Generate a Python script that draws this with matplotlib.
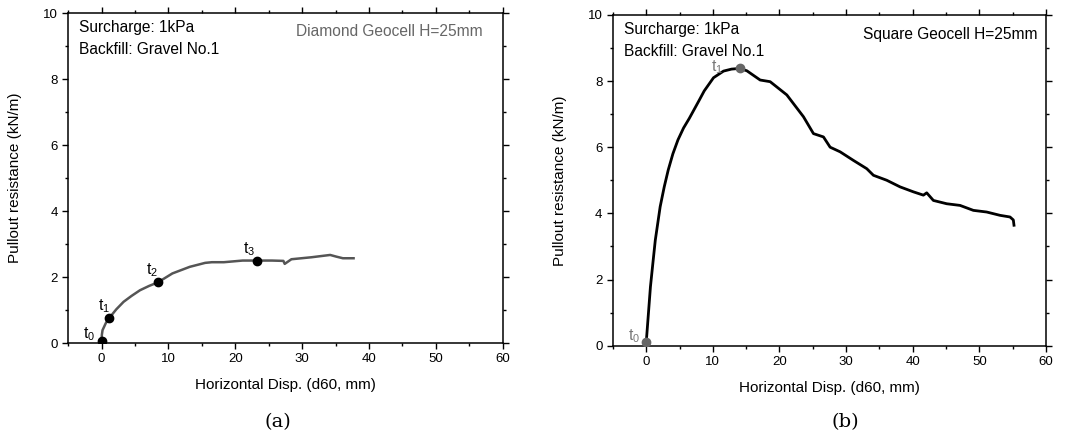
import matplotlib
matplotlib.use("Agg")
import matplotlib.pyplot as plt
from matplotlib.ticker import MultipleLocator

plt.rcParams['font.family'] = ['Liberation Sans', 'DejaVu Sans']
plt.rcParams['mathtext.fontset'] = 'custom'
plt.rcParams['mathtext.rm'] = 'Liberation Sans'

# (a) diamond geocell curve
disp_a = [0.0, 0.05, 0.15, 0.63, 1.12, 2.2, 3.3, 4.5, 5.75, 7.1, 8.44, 10.6, 13.2, 15.5, 16.5,
          18.3, 21.1, 23.3, 25.5, 27.2, 27.4, 28.4, 31.4, 34.2, 35.1, 36.1, 37.7]
res_a = [0.07, 0.25, 0.39, 0.60, 0.75, 1.02, 1.25, 1.43, 1.60, 1.73, 1.84, 2.11, 2.31, 2.43, 2.45,
         2.45, 2.50, 2.50, 2.50, 2.49, 2.40, 2.54, 2.60, 2.67, 2.62, 2.57, 2.57]
pts_a_x = [0.0, 1.12, 8.44, 23.3]
pts_a_y = [0.07, 0.75, 1.84, 2.50]
pts_a_lab = ['t$_0$', 't$_1$', 't$_2$', 't$_3$']
lab_a_x = [-1.9, 0.4, 7.5, 22.0]
lab_a_y = [0.28, 1.12, 2.22, 2.85]

# (b) square geocell curve
disp_b = [0.0, 0.3, 0.63, 1.0, 1.36, 2.09, 2.7, 3.3, 4.0, 4.76, 5.6, 6.46, 7.9, 8.7, 10.1,
          11.6, 12.8, 14.0, 15.1, 17.1, 18.6, 21.1, 23.6, 25.1, 26.6, 27.6, 29.1, 31.1,
          33.1, 34.1, 36.1, 38.1, 40.1, 41.6, 42.1, 43.1, 45.1, 47.1, 49.1, 51.1, 53.1,
          54.6, 55.1, 55.2]
res_b = [0.10, 0.90, 1.78, 2.50, 3.19, 4.20, 4.80, 5.31, 5.80, 6.22, 6.58, 6.87, 7.40, 7.70, 8.10,
         8.30, 8.36, 8.38, 8.31, 8.03, 7.98, 7.58, 6.92, 6.41, 6.31, 6.00, 5.86, 5.60,
         5.35, 5.15, 5.00, 4.80, 4.65, 4.55, 4.62, 4.39, 4.29, 4.24, 4.09, 4.04, 3.94,
         3.89, 3.80, 3.64]
pts_b_x = [0.0, 14.0]
pts_b_y = [0.10, 8.38]
pts_b_lab = ['t$_0$', 't$_1$']
lab_b_x = [-1.9, 10.6]
lab_b_y = [0.30, 8.42]

fig = plt.figure(figsize=(10.81, 4.37), dpi=100)
ax1 = fig.add_axes([0.063, 0.215, 0.402, 0.755])
ax2 = fig.add_axes([0.567, 0.209, 0.4006, 0.757])

FS = 11.2


def style(ax):
    ax.set_xlim(-5, 60)
    ax.set_ylim(0, 10)
    ax.xaxis.set_major_locator(MultipleLocator(10))
    ax.xaxis.set_minor_locator(MultipleLocator(5))
    ax.yaxis.set_major_locator(MultipleLocator(2))
    ax.yaxis.set_minor_locator(MultipleLocator(1))
    ax.tick_params(which='both', direction='out', top=True, right=True, labelsize=9.5)
    ax.tick_params(which='major', length=4, width=1)
    ax.tick_params(which='minor', length=2.5, width=1)
    for s in ax.spines.values():
        s.set_linewidth(1.1)
    ax.set_xlabel('Horizontal Disp. (d60, mm)', fontsize=11, labelpad=9)
    ax.set_ylabel('Pullout resistance (kN/m)', fontsize=11, labelpad=15)
    ax.text(0.025, 0.955, 'Surcharge: 1kPa', transform=ax.transAxes, fontsize=FS, va='center')
    ax.text(0.025, 0.89, 'Backfill: Gravel No.1', transform=ax.transAxes, fontsize=FS, va='center')


style(ax1)
ax1.plot(disp_a, res_a, color='#555555', lw=1.8)
ax1.plot(pts_a_x, pts_a_y, 'o', color='black', ms=6, zorder=3)
for x, y, lab in zip(lab_a_x, lab_a_y, pts_a_lab):
    ax1.text(x, y, lab, fontsize=FS, ha='center', va='center')
ax1.text(0.955, 0.945, 'Diamond Geocell H=25mm', transform=ax1.transAxes, fontsize=FS,
         ha='right', va='center', color='#666666')

style(ax2)
ax2.plot(disp_b, res_b, color='black', lw=2)
ax2.plot(pts_b_x, pts_b_y, 'o', color='#666666', ms=6, zorder=3)
for x, y, lab in zip(lab_b_x, lab_b_y, pts_b_lab):
    ax2.text(x, y, lab, fontsize=FS, ha='center', va='center', color='#777777')
ax2.text(0.98, 0.94, 'Square Geocell H=25mm', transform=ax2.transAxes, fontsize=FS,
         ha='right', va='center')

fig.text(0.257, 0.035, '(a)', fontsize=14, ha='center', va='center', family='DejaVu Serif')
fig.text(0.782, 0.035, '(b)', fontsize=14, ha='center', va='center', family='DejaVu Serif')

fig.savefig('out.png', dpi=100)
